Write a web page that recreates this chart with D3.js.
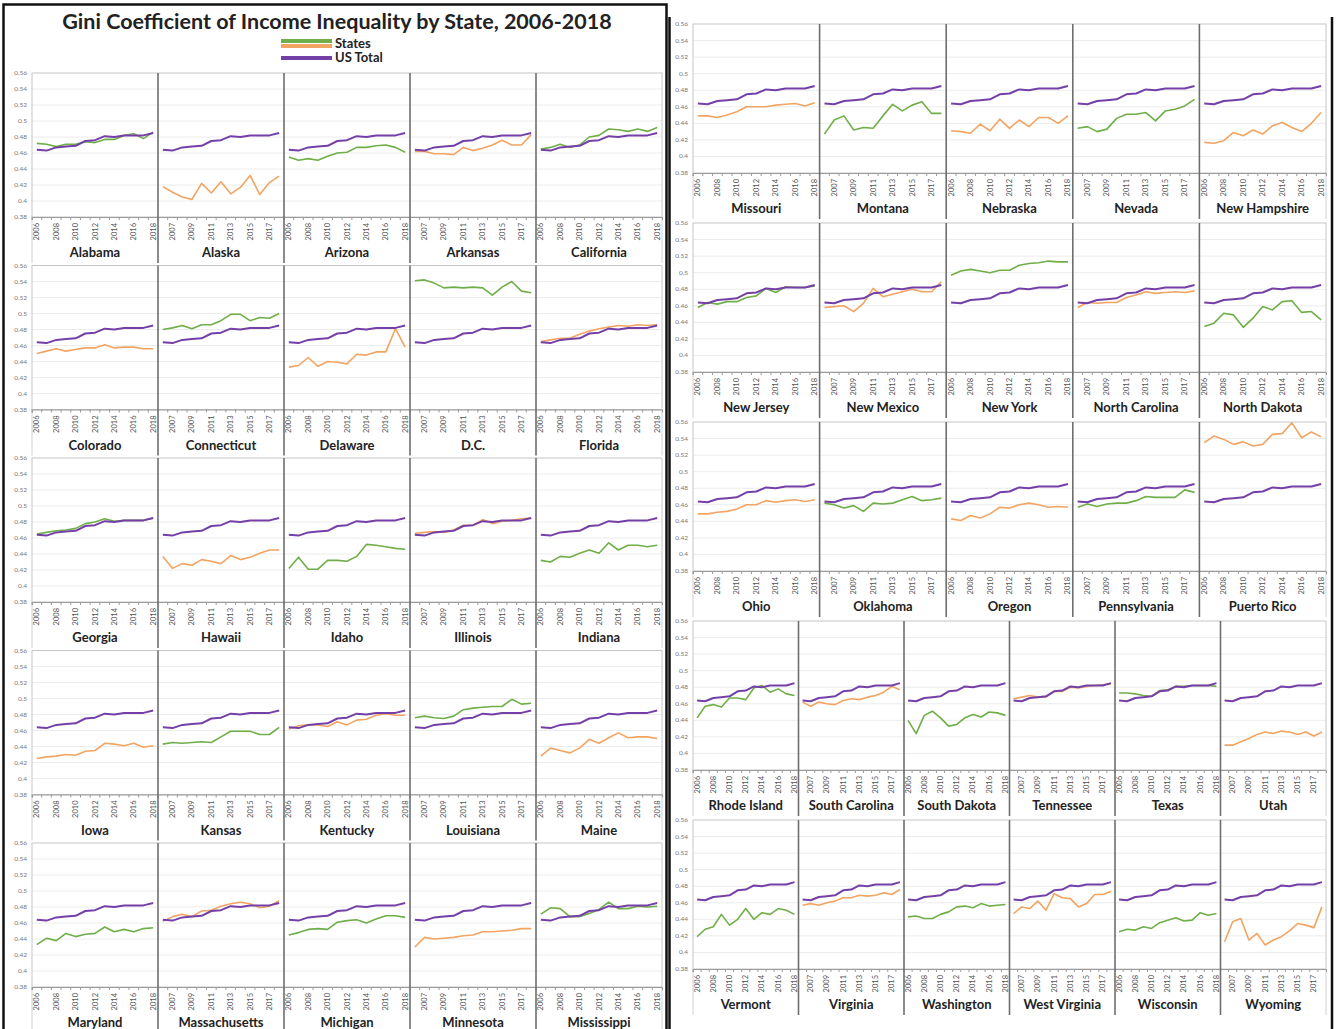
<!DOCTYPE html>
<html>
<head>
<meta charset="utf-8">
<script src="https://cdn.jsdelivr.net/npm/d3@7/dist/d3.min.js"></script>
<style>
  body { margin: 0; background: #fff; }
  svg { display: block; font-family: Lato, "Open Sans", sans-serif; }
</style>
</head>
<body>
<div id="chart"></div>
<script>
// ---- data ----
const years = [2006, 2007, 2008, 2009, 2010, 2011, 2012, 2013, 2014, 2015, 2016, 2017, 2018];
const yTicks = [0.38, 0.40, 0.42, 0.44, 0.46, 0.48, 0.50, 0.52, 0.54, 0.56];
const usTotal = [0.464, 0.463, 0.467, 0.468, 0.469, 0.475, 0.476, 0.481, 0.480, 0.482, 0.482, 0.482, 0.485];

const stateNames = [
  "Alabama", "Alaska", "Arizona", "Arkansas", "California",
  "Colorado", "Connecticut", "Delaware", "D.C.", "Florida",
  "Georgia", "Hawaii", "Idaho", "Illinois", "Indiana",
  "Iowa", "Kansas", "Kentucky", "Louisiana", "Maine",
  "Maryland", "Massachusetts", "Michigan", "Minnesota", "Mississippi",
  "Missouri", "Montana", "Nebraska", "Nevada", "New Hampshire",
  "New Jersey", "New Mexico", "New York", "North Carolina", "North Dakota",
  "Ohio", "Oklahoma", "Oregon", "Pennsylvania", "Puerto Rico",
  "Rhode Island", "South Carolina", "South Dakota", "Tennessee", "Texas", "Utah",
  "Vermont", "Virginia", "Washington", "West Virginia", "Wisconsin", "Wyoming"
];

const stateGini = [
  [0.472, 0.471, 0.468, 0.471, 0.471, 0.474, 0.473, 0.477, 0.477, 0.482, 0.484, 0.478, 0.486], // Alabama
  [0.418, 0.411, 0.405, 0.402, 0.422, 0.410, 0.424, 0.409, 0.417, 0.432, 0.408, 0.423, 0.431], // Alaska
  [0.455, 0.451, 0.453, 0.451, 0.456, 0.460, 0.461, 0.467, 0.467, 0.469, 0.470, 0.467, 0.461], // Arizona
  [0.462, 0.462, 0.459, 0.459, 0.458, 0.467, 0.463, 0.466, 0.470, 0.476, 0.470, 0.470, 0.483], // Arkansas
  [0.465, 0.467, 0.471, 0.467, 0.470, 0.480, 0.482, 0.490, 0.489, 0.487, 0.490, 0.487, 0.492], // California
  [0.450, 0.453, 0.456, 0.453, 0.455, 0.457, 0.457, 0.461, 0.457, 0.458, 0.458, 0.456, 0.456], // Colorado
  [0.480, 0.482, 0.485, 0.481, 0.486, 0.486, 0.491, 0.499, 0.499, 0.491, 0.495, 0.494, 0.500], // Connecticut
  [0.433, 0.435, 0.445, 0.434, 0.440, 0.439, 0.437, 0.449, 0.448, 0.452, 0.452, 0.481, 0.458], // Delaware
  [0.541, 0.542, 0.538, 0.532, 0.533, 0.532, 0.533, 0.532, 0.523, 0.533, 0.540, 0.528, 0.526], // D.C.
  [0.465, 0.467, 0.469, 0.469, 0.474, 0.478, 0.481, 0.483, 0.485, 0.484, 0.486, 0.485, 0.486], // Florida
  [0.465, 0.467, 0.469, 0.470, 0.472, 0.478, 0.480, 0.484, 0.481, 0.482, 0.482, 0.482, 0.485], // Georgia
  [0.437, 0.422, 0.428, 0.426, 0.433, 0.431, 0.428, 0.438, 0.433, 0.436, 0.441, 0.445, 0.445], // Hawaii
  [0.422, 0.436, 0.421, 0.421, 0.432, 0.432, 0.431, 0.437, 0.452, 0.451, 0.449, 0.447, 0.446], // Idaho
  [0.466, 0.467, 0.468, 0.467, 0.470, 0.476, 0.476, 0.483, 0.478, 0.481, 0.482, 0.484, 0.485], // Illinois
  [0.432, 0.430, 0.437, 0.436, 0.441, 0.445, 0.441, 0.454, 0.445, 0.451, 0.451, 0.449, 0.451], // Indiana
  [0.425, 0.427, 0.428, 0.430, 0.429, 0.434, 0.435, 0.444, 0.443, 0.441, 0.444, 0.439, 0.441], // Iowa
  [0.443, 0.445, 0.444, 0.445, 0.446, 0.445, 0.452, 0.459, 0.459, 0.459, 0.455, 0.455, 0.464], // Kansas
  [0.462, 0.466, 0.467, 0.467, 0.465, 0.471, 0.467, 0.473, 0.474, 0.479, 0.481, 0.479, 0.479], // Kentucky
  [0.476, 0.478, 0.476, 0.475, 0.478, 0.486, 0.488, 0.489, 0.490, 0.490, 0.499, 0.493, 0.494], // Louisiana
  [0.428, 0.438, 0.435, 0.432, 0.438, 0.449, 0.444, 0.451, 0.457, 0.451, 0.452, 0.452, 0.450], // Maine
  [0.433, 0.441, 0.438, 0.447, 0.443, 0.446, 0.447, 0.455, 0.449, 0.452, 0.449, 0.453, 0.454], // Maryland
  [0.462, 0.468, 0.471, 0.468, 0.475, 0.476, 0.481, 0.484, 0.486, 0.484, 0.479, 0.481, 0.488], // Massachusetts
  [0.445, 0.448, 0.452, 0.453, 0.452, 0.461, 0.463, 0.464, 0.460, 0.465, 0.469, 0.469, 0.467], // Michigan
  [0.430, 0.442, 0.440, 0.441, 0.442, 0.444, 0.445, 0.449, 0.449, 0.450, 0.451, 0.453, 0.453], // Minnesota
  [0.471, 0.479, 0.478, 0.468, 0.468, 0.472, 0.477, 0.486, 0.478, 0.478, 0.481, 0.480, 0.481], // Mississippi
  [0.449, 0.449, 0.447, 0.450, 0.454, 0.460, 0.460, 0.460, 0.462, 0.463, 0.464, 0.461, 0.465], // Missouri
  [0.427, 0.444, 0.449, 0.432, 0.435, 0.434, 0.449, 0.463, 0.455, 0.462, 0.466, 0.452, 0.452], // Montana
  [0.431, 0.430, 0.428, 0.439, 0.431, 0.445, 0.434, 0.444, 0.436, 0.447, 0.447, 0.440, 0.449], // Nebraska
  [0.434, 0.436, 0.430, 0.433, 0.446, 0.451, 0.451, 0.453, 0.443, 0.455, 0.457, 0.461, 0.469], // Nevada
  [0.417, 0.416, 0.419, 0.429, 0.425, 0.432, 0.427, 0.437, 0.441, 0.435, 0.430, 0.440, 0.453], // New Hampshire
  [0.458, 0.464, 0.462, 0.465, 0.465, 0.470, 0.472, 0.481, 0.476, 0.483, 0.482, 0.482, 0.484], // New Jersey
  [0.458, 0.459, 0.460, 0.453, 0.463, 0.481, 0.471, 0.474, 0.477, 0.480, 0.477, 0.477, 0.489], // New Mexico
  [0.497, 0.502, 0.504, 0.502, 0.500, 0.503, 0.503, 0.509, 0.511, 0.512, 0.514, 0.513, 0.513], // New York
  [0.458, 0.464, 0.463, 0.464, 0.464, 0.470, 0.473, 0.477, 0.475, 0.476, 0.477, 0.476, 0.478], // North Carolina
  [0.435, 0.439, 0.451, 0.449, 0.434, 0.445, 0.459, 0.455, 0.465, 0.466, 0.452, 0.453, 0.443], // North Dakota
  [0.449, 0.449, 0.451, 0.452, 0.455, 0.460, 0.460, 0.465, 0.463, 0.465, 0.466, 0.464, 0.466], // Ohio
  [0.462, 0.460, 0.456, 0.459, 0.452, 0.462, 0.461, 0.462, 0.466, 0.470, 0.465, 0.466, 0.468], // Oklahoma
  [0.443, 0.441, 0.447, 0.444, 0.449, 0.457, 0.456, 0.460, 0.462, 0.460, 0.457, 0.458, 0.457], // Oregon
  [0.457, 0.461, 0.458, 0.461, 0.462, 0.462, 0.465, 0.470, 0.469, 0.469, 0.469, 0.478, 0.475], // Pennsylvania
  [0.535, 0.543, 0.539, 0.533, 0.536, 0.531, 0.533, 0.545, 0.546, 0.559, 0.541, 0.548, 0.542], // Puerto Rico
  [0.443, 0.457, 0.459, 0.456, 0.467, 0.467, 0.465, 0.479, 0.482, 0.474, 0.478, 0.472, 0.470], // Rhode Island
  [0.462, 0.457, 0.462, 0.460, 0.459, 0.464, 0.466, 0.465, 0.468, 0.470, 0.474, 0.481, 0.477], // South Carolina
  [0.440, 0.424, 0.446, 0.451, 0.443, 0.433, 0.435, 0.443, 0.447, 0.444, 0.450, 0.449, 0.446], // South Dakota
  [0.466, 0.468, 0.470, 0.468, 0.468, 0.475, 0.475, 0.480, 0.479, 0.481, 0.482, 0.483, 0.484], // Tennessee
  [0.473, 0.473, 0.472, 0.470, 0.469, 0.476, 0.477, 0.481, 0.481, 0.482, 0.482, 0.482, 0.481], // Texas
  [0.410, 0.410, 0.414, 0.418, 0.423, 0.426, 0.424, 0.427, 0.426, 0.423, 0.426, 0.421, 0.426], // Utah
  [0.419, 0.428, 0.431, 0.446, 0.433, 0.440, 0.453, 0.440, 0.448, 0.446, 0.453, 0.451, 0.446], // Vermont
  [0.457, 0.459, 0.457, 0.460, 0.462, 0.466, 0.466, 0.469, 0.468, 0.469, 0.472, 0.470, 0.476], // Virginia
  [0.443, 0.444, 0.441, 0.441, 0.446, 0.449, 0.455, 0.456, 0.454, 0.459, 0.456, 0.457, 0.458], // Washington
  [0.447, 0.455, 0.453, 0.462, 0.451, 0.471, 0.466, 0.465, 0.455, 0.459, 0.470, 0.470, 0.474], // West Virginia
  [0.425, 0.428, 0.427, 0.431, 0.429, 0.436, 0.439, 0.442, 0.438, 0.439, 0.448, 0.445, 0.447], // Wisconsin
  [0.413, 0.437, 0.441, 0.415, 0.423, 0.409, 0.415, 0.419, 0.426, 0.435, 0.433, 0.430, 0.455]  // Wyoming
];

// states per row, left block then right block
const leftRowSizes = [5, 5, 5, 5, 5];
const rightRowSizes = [5, 5, 5, 6, 6];

// ---- drawing ----
const W = 1338, H = 1029;
const colors = { green: "#6fae48", orange: "#f2a463", us: "#7440a8" };

const svg = d3.select("#chart").append("svg")
    .attr("width", W)
    .attr("height", H);

svg.append("rect").attr("width", W).attr("height", H).attr("fill", "#fff");

// frames of the two halves
svg.append("path")
    .attr("d", "M3.5,1030 V4.5 H666.5 V1030")
    .attr("fill", "none").attr("stroke", "#111").attr("stroke-width", 2.5);
svg.append("path")
    .attr("d", "M669.5,17 V1030 M1332,17 V1030")
    .attr("fill", "none").attr("stroke", "#111").attr("stroke-width", 2.5);

// title and legend
svg.append("text")
    .attr("x", 337).attr("y", 29)
    .attr("text-anchor", "middle")
    .style("font-size", "21.5px").style("font-weight", "bold")
    .attr("fill", "#222")
    .text("Gini Coefficient of Income Inequality by State, 2006-2018");

const legend = svg.append("g");
legend.append("line").attr("x1", 281).attr("x2", 332).attr("y1", 41).attr("y2", 41)
    .attr("stroke", colors.green).attr("stroke-width", 4);
legend.append("line").attr("x1", 281).attr("x2", 332).attr("y1", 46).attr("y2", 46)
    .attr("stroke", colors.orange).attr("stroke-width", 4);
legend.append("line").attr("x1", 281).attr("x2", 332).attr("y1", 58).attr("y2", 58)
    .attr("stroke", colors.us).attr("stroke-width", 4);
legend.append("text").attr("x", 335).attr("y", 48).text("States")
    .style("font-size", "13px").style("font-weight", "bold").attr("fill", "#222");
legend.append("text").attr("x", 335).attr("y", 62).text("US Total")
    .style("font-size", "13px").style("font-weight", "bold").attr("fill", "#222");

const line = d3.line().x(d => d.x).y(d => d.y);

function drawRow(x0, x1, top, h, stateIdx) {
    const n = stateIdx.length;
    const g = svg.append("g");

    const xBand = d3.scaleBand()
        .domain(d3.range(n * years.length))
        .range([x0, x1]);
    const y = d3.scaleLinear().domain([0.38, 0.56]).range([top + h, top]);
    const bottom = top + h;
    const panelW = (x1 - x0) / n;

    // gridlines
    g.selectAll(".grid").data(yTicks.slice(1, -1)).enter().append("line")
        .attr("x1", x0).attr("x2", x1)
        .attr("y1", d => y(d)).attr("y2", d => y(d))
        .attr("stroke", "#ececec").attr("stroke-width", 1);

    // plot frame
    g.append("rect")
        .attr("x", x0).attr("y", top).attr("width", x1 - x0).attr("height", h)
        .attr("fill", "none").attr("stroke", "#c6c6c6").attr("stroke-width", 1);

    // outer light verticals through label area
    [x0, x1].forEach(xx => {
        g.append("line").attr("x1", xx).attr("x2", xx)
            .attr("y1", bottom).attr("y2", bottom + 46)
            .attr("stroke", "#d0d0d0").attr("stroke-width", 1);
    });

    // y axis labels
    g.selectAll(".ylab").data(yTicks).enter().append("text")
        .attr("x", x0 - 5).attr("y", d => y(d) + 2)
        .attr("text-anchor", "end")
        .style("font-size", "6.5px").attr("fill", "#777")
        .text(d => String(+d.toFixed(2)));

    // x axis with small ticks
    const xAxis = d3.axisBottom(xBand).tickSize(3).tickFormat("");
    const ax = g.append("g").attr("transform", `translate(0,${bottom})`).call(xAxis);
    ax.select(".domain").attr("stroke", "#9a9a9a");
    ax.selectAll(".tick line").attr("stroke", "#9a9a9a")
        .attr("transform", `translate(${-xBand.bandwidth() / 2},0)`);

    // year labels every second category across the whole row
    const labelIdx = xBand.domain().filter(i => i % 2 === 0);
    g.selectAll(".xlab").data(labelIdx).enter().append("text")
        .attr("transform", i => `translate(${xBand(i) + xBand.bandwidth() / 2 + 2.5},${bottom + 6}) rotate(-90)`)
        .attr("text-anchor", "end")
        .style("font-size", "7.5px").attr("fill", "#555")
        .text(i => years[i % years.length]);

    stateIdx.forEach((s, p) => {
        const px = x0 + p * panelW;
        const off = p * years.length;

        // separator
        if (p > 0) {
            g.append("line").attr("x1", px).attr("x2", px)
                .attr("y1", top).attr("y2", bottom + 46)
                .attr("stroke", "#6e6e6e").attr("stroke-width", 1.6);
        }

        const cx = i => xBand(off + i) + xBand.bandwidth() / 2;

        g.append("path")
            .datum(stateGini[s].map((v, i) => ({ x: cx(i), y: y(v) })))
            .attr("d", line)
            .attr("fill", "none")
            .attr("stroke", s % 2 === 0 ? colors.green : colors.orange)
            .attr("stroke-width", 1.6)
            .attr("stroke-linejoin", "round");

        g.append("path")
            .datum(usTotal.map((v, i) => ({ x: cx(i), y: y(v) })))
            .attr("d", line)
            .attr("fill", "none")
            .attr("stroke", colors.us)
            .attr("stroke-width", 2)
            .attr("stroke-linejoin", "round");

        g.append("text")
            .attr("x", px + panelW / 2).attr("y", bottom + 40)
            .attr("text-anchor", "middle")
            .style("font-size", "13px").style("font-weight", "bold")
            .attr("fill", "#222")
            .text(stateNames[s]);
    });
}

// left half
let k = 0;
leftRowSizes.forEach((n, r) => {
    drawRow(32, 662, 73 + 192.5 * r, 144, d3.range(k, k + n));
    k += n;
});

// right half
rightRowSizes.forEach((n, r) => {
    drawRow(693, 1326, 24 + 199 * r, 149, d3.range(k, k + n));
    k += n;
});
</script>
</body>
</html>
